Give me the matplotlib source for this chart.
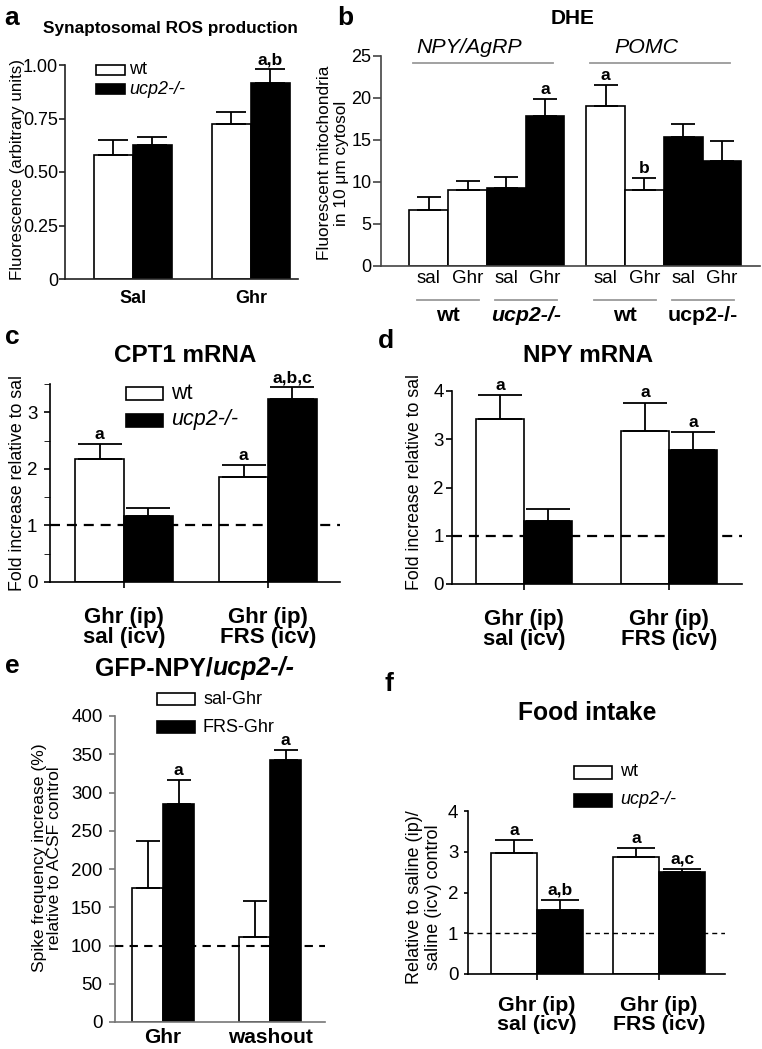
import numpy as np
import matplotlib
matplotlib.use('Agg')
import matplotlib.pyplot as plt
from matplotlib.patches import Rectangle

plt.rcParams['font.family'] = ['Liberation Sans', 'DejaVu Sans']

W, H = 762, 1049

# ---- data ----
# a: synaptosomal ROS
a_groups = ['Sal', 'Ghr']
a_wt = [0.58, 0.725]
a_wt_top = [0.65, 0.78]
a_ko = [0.625, 0.915]
a_ko_top = [0.665, 0.98]
a_ko_marks = ['', 'a,b']

# b: DHE
b_ticks = ['sal', 'Ghr', 'sal', 'Ghr', 'sal', 'Ghr', 'sal', 'Ghr']
b_geno = ['wt', 'wt', 'ko', 'ko', 'wt', 'wt', 'ko', 'ko']
b_vals = [6.7, 9.0, 9.3, 17.8, 19.0, 9.0, 15.3, 12.5]
b_top = [8.2, 10.1, 10.6, 19.9, 21.5, 10.5, 16.9, 14.9]
b_marks = ['', '', '', 'a', 'a', 'b', '', '']
b_cells = ['NPY/AgRP', 'POMC']
b_geno_labels = ['wt', 'ucp2-/-', 'wt', 'ucp2-/-']

# c: CPT1 mRNA
c_groups = ['Ghr (ip)\nsal (icv)', 'Ghr (ip)\nFRS (icv)']
c_wt = [2.18, 1.86]
c_wt_top = [2.44, 2.07]
c_ko = [1.17, 3.23]
c_ko_top = [1.31, 3.44]
c_wt_marks = ['a', 'a']
c_ko_marks = ['', 'a,b,c']

# d: NPY mRNA
d_groups = ['Ghr (ip)\nsal (icv)', 'Ghr (ip)\nFRS (icv)']
d_wt = [3.43, 3.17]
d_wt_top = [3.92, 3.76]
d_ko = [1.30, 2.77]
d_ko_top = [1.56, 3.14]
d_wt_marks = ['a', 'a']
d_ko_marks = ['', 'a']

# e: spike frequency
e_groups = ['Ghr', 'washout']
e_sal = [175, 111]
e_sal_top = [236, 158]
e_frs = [285, 343]
e_frs_top = [316, 355]
e_frs_marks = ['a', 'a']

# f: food intake
f_groups = ['Ghr (ip)\nsal (icv)', 'Ghr (ip)\nFRS (icv)']
f_wt = [2.97, 2.86]
f_wt_top = [3.28, 3.10]
f_ko = [1.57, 2.50]
f_ko_top = [1.82, 2.58]
f_wt_marks = ['a', 'a']
f_ko_marks = ['a,b', 'a,c']

fig = plt.figure(figsize=(W / 100, H / 100), dpi=100)


def add_ax(l, t, r, b):
    return fig.add_axes([l / W, 1 - b / H, (r - l) / W, (b - t) / H])


def ftext(x, y, s, **kw):
    kw.setdefault('ha', 'center')
    kw.setdefault('va', 'center')
    return fig.text(x / W, 1 - y / H, s, **kw)


def style(ax, color='k', lw=1.2):
    for s in ['top', 'right']:
        ax.spines[s].set_visible(False)
    for s in ['left', 'bottom']:
        ax.spines[s].set_color(color)
        ax.spines[s].set_linewidth(lw)
    ax.tick_params(color=color, width=lw, direction='out')


def ylabel_at(ax, text, x, y, size, ls=1.2):
    l, b, w, h = ax.get_position().bounds
    ax.set_ylabel(text, fontsize=size, va='center', ha='center', linespacing=ls)
    ax.yaxis.set_label_coords((x / W - l) / w, ((1 - y / H) - b) / h)


def legend_box(x0, x1, yc, h, fill, label, size, italic=False, gap=8):
    fig.patches.append(Rectangle((x0 / W, 1 - (yc + h / 2) / H), (x1 - x0) / W, h / H,
                                 transform=fig.transFigure, facecolor=fill,
                                 edgecolor='k', lw=1.2))
    ftext(x1 + gap, yc, label, ha='left', fontsize=size,
          style='italic' if italic else 'normal')


def bars(ax, x, vals, tops, fill, width, cap, marks, msize):
    vals = np.asarray(vals, dtype=float)
    tops = np.asarray(tops, dtype=float)
    ax.bar(x, vals, width, color=fill, edgecolor='k', linewidth=1.2, zorder=2)
    ax.errorbar(x, vals, yerr=[np.zeros_like(vals), tops - vals], fmt='none',
                ecolor='k', elinewidth=1.3, capsize=cap, capthick=1.3, zorder=3)
    for xi, t, m in zip(x, tops, marks):
        if m:
            ax.annotate(m, (xi, t), xytext=(0, 1.5), textcoords='offset points',
                        ha='center', va='bottom', fontsize=msize,
                        fontweight='bold', annotation_clip=False)


# ---- panel a ----
ax = add_ax(65, 65, 298, 279)
style(ax, '#222')
x = np.arange(len(a_groups))
w = 0.33
bars(ax, x - w / 2, a_wt, a_wt_top, 'white', w, 11, [''] * 2, 12.5)
bars(ax, x + w / 2, a_ko, a_ko_top, 'black', w, 11, a_ko_marks, 12.5)
ax.set_xlim(-0.576, 1.40)
ax.set_ylim(0, 1)
ax.set_yticks([0, 0.25, 0.5, 0.75, 1.0])
ax.set_yticklabels(['0', '0.25', '0.50', '0.75', '1.00'], fontsize=13)
ax.set_xticks(x)
ax.set_xticklabels(a_groups, fontsize=13, fontweight='bold')
ax.tick_params(axis='x', length=0, pad=8)
ax.tick_params(axis='y', length=4, pad=1)
ylabel_at(ax, 'Fluorescence (arbitrary units)', 18, 169, 12.2)
ftext(12, 18, 'a', fontsize=19, fontweight='bold')
ftext(170, 28, 'Synaptosomal ROS production', fontsize=12.4, fontweight='bold')
legend_box(96, 125, 70, 10, 'white', 'wt', 13, gap=4)
legend_box(96, 125, 89, 10, 'black', 'ucp2-/-', 13, italic=True, gap=4)

# ---- panel b ----
ax = add_ax(381, 56, 760, 266)
style(ax, '#444')
xb = np.arange(len(b_vals)) + np.repeat([0, 0.56], 4)
fills = ['white' if g == 'wt' else 'black' for g in b_geno]
bars(ax, xb, b_vals, b_top, fills, 1.0, 8.5, b_marks, 12.5)
ax.set_xlim(-1.23, 8.54)
ax.set_ylim(0, 25)
ax.set_yticks(range(0, 26, 5))
ax.tick_params(axis='y', labelsize=13, length=6, pad=1)
ax.set_xticks(xb)
ax.set_xticklabels(b_ticks, fontsize=13.5)
ax.tick_params(axis='x', length=0, pad=3)
ylabel_at(ax, 'Fluorescent mitochondria\nin 10 \u03bcm cytosol', 333, 163, 12.4, ls=1.1)
gray = '#9a9a9a'
for g, name in enumerate(b_cells):
    i0, i1 = 4 * g, 4 * g + 3
    x0, x1 = xb[i0] - 0.4, xb[i1] + 0.2
    ax.plot([x0, x1], [24.2, 24.2], color=gray, lw=1.3, clip_on=False)
    ax.text((x0 + x1) / 2 - 0.35, 26.0, name, ha='center', va='center',
            fontsize=15.4, style='italic', clip_on=False)
trans = ax.get_xaxis_transform()
for p, name in enumerate(b_geno_labels):
    j = 2 * p
    x0, x1 = xb[j] - 0.3, xb[j + 1] + 0.3
    ax.plot([x0, x1], [-0.16, -0.16], color=gray, lw=1.3, transform=trans, clip_on=False)
    ax.text((x0 + x1) / 2, -0.238, name, transform=trans, ha='center', va='center',
            fontsize=15.4, fontweight='bold',
            style='italic' if p == 1 else 'normal')
ftext(345, 18, 'b', fontsize=19, fontweight='bold')
ftext(573, 19, 'DHE', fontsize=15, fontweight='bold')

# ---- panel c ----
ax = add_ax(50, 384, 340, 582)
style(ax, 'k')
x = np.arange(len(c_groups))
w = 0.34
bars(ax, x - w / 2, c_wt, c_wt_top, 'white', w, 16, c_wt_marks, 12.5)
bars(ax, x + w / 2, c_ko, c_ko_top, 'black', w, 16, c_ko_marks, 12.5)
ax.axhline(1, color='k', ls=(0, (4.5, 3.1)), lw=1.6, zorder=4)
ax.set_xlim(-0.514, 1.5)
ax.set_ylim(0, 3.5)
ax.set_yticks([0, 1, 2, 3])
ax.set_yticks(np.arange(0.5, 3.6, 1.0), minor=True)
ax.tick_params(axis='y', which='both', labelsize=13.5, length=4, pad=5)
ax.set_xticks(x)
ax.set_xticklabels(c_groups, fontsize=16, fontweight='bold', linespacing=0.95)
ax.tick_params(axis='x', length=4, pad=14)
ylabel_at(ax, 'Fold increase relative to sal', 18, 483, 12.8)
ftext(12, 337, 'c', fontsize=19, fontweight='bold')
ftext(185, 355, 'CPT1 mRNA', fontsize=17.5, fontweight='bold')
legend_box(126, 163, 393, 13, 'white', 'wt', 15.5)
legend_box(126, 163, 420, 13, 'black', 'ucp2-/-', 15.5, italic=True)

# ---- panel d ----
ax = add_ax(452, 391, 742, 584)
style(ax, 'k')
x = np.arange(len(d_groups))
w = 0.33
bars(ax, x - w / 2, d_wt, d_wt_top, 'white', w, 16, d_wt_marks, 12.5)
bars(ax, x + w / 2, d_ko, d_ko_top, 'black', w, 16, d_ko_marks, 12.5)
ax.axhline(1, color='k', ls=(0, (4.5, 3.1)), lw=1.6, zorder=4)
ax.set_xlim(-0.497, 1.5)
ax.set_ylim(0, 4)
ax.set_yticks(range(0, 5))
ax.tick_params(axis='y', labelsize=13.5, length=4, pad=2)
ax.set_xticks(x)
ax.set_xticklabels(d_groups, fontsize=16, fontweight='bold', linespacing=0.95)
ax.tick_params(axis='x', length=4, pad=14)
ylabel_at(ax, 'Fold increase relative to sal', 415, 482, 12.8)
ftext(386, 341, 'd', fontsize=19, fontweight='bold')
ftext(588, 356, 'NPY mRNA', fontsize=17.5, fontweight='bold')

# ---- panel e ----
ax = add_ax(115, 716, 325, 1022)
style(ax, '#777')
x = np.arange(len(e_groups))
w = 0.29
bars(ax, x - w / 2, e_sal, e_sal_top, 'white', w, 8.5, [''] * 2, 12.5)
bars(ax, x + w / 2, e_frs, e_frs_top, 'black', w, 8.5, e_frs_marks, 12.5)
ax.axhline(100, color='k', ls=(0, (4, 3)), lw=1.5, zorder=4)
ax.set_xlim(-0.449, 1.514)
ax.set_ylim(0, 400)
ax.set_yticks(range(0, 401, 50))
ax.tick_params(axis='y', labelsize=13.5, length=4, pad=5)
ax.set_xticks(x)
ax.set_xticklabels(e_groups, fontsize=15, fontweight='bold')
ax.tick_params(axis='x', length=0, pad=4)
ylabel_at(ax, 'Spike frequency increase (%)\nrelative to ACSF control', 47, 858, 12.6, ls=1.08)
ftext(12, 666, 'e', fontsize=19, fontweight='bold')
ftext(213, 668, 'GFP-NPY/', ha='right', fontsize=18, fontweight='bold')
ftext(213, 668, 'ucp2-/-', ha='left', fontsize=18, fontweight='bold', style='italic')
legend_box(157, 195, 699, 12, 'white', 'sal-Ghr', 13)
legend_box(157, 195, 727, 12, 'black', 'FRS-Ghr', 13)

# ---- panel f ----
ax = add_ax(468, 811, 725, 974)
style(ax, 'k')
x = np.arange(len(f_groups))
w = 0.377
bars(ax, x - w / 2, f_wt, f_wt_top, 'white', w, 14, f_wt_marks, 12.5)
bars(ax, x + w / 2, f_ko, f_ko_top, 'black', w, 14, f_ko_marks, 12.5)
ax.axhline(1, color='k', ls=(0, (3.6, 2.9)), lw=1.0, zorder=4)
ax.set_xlim(-0.566, 1.54)
ax.set_ylim(0, 4)
ax.set_yticks(range(0, 5))
ax.tick_params(axis='y', labelsize=13.5, length=3, pad=4)
ax.set_xticks(x)
ax.set_xticklabels(f_groups, fontsize=15.4, fontweight='bold', linespacing=1.0)
ax.tick_params(axis='x', length=4, pad=12)
ylabel_at(ax, 'Relative to saline (ip)/\nsaline (icv) control', 424, 897, 13, ls=1.2)
ftext(389, 684, 'f', fontsize=19, fontweight='bold')
ftext(587, 713, 'Food intake', fontsize=17.7, fontweight='bold')
legend_box(574, 612, 772, 13, 'white', 'wt', 13)
legend_box(574, 612, 800, 13, 'black', 'ucp2-/-', 13, italic=True)

fig.savefig('out.png', dpi=100)
